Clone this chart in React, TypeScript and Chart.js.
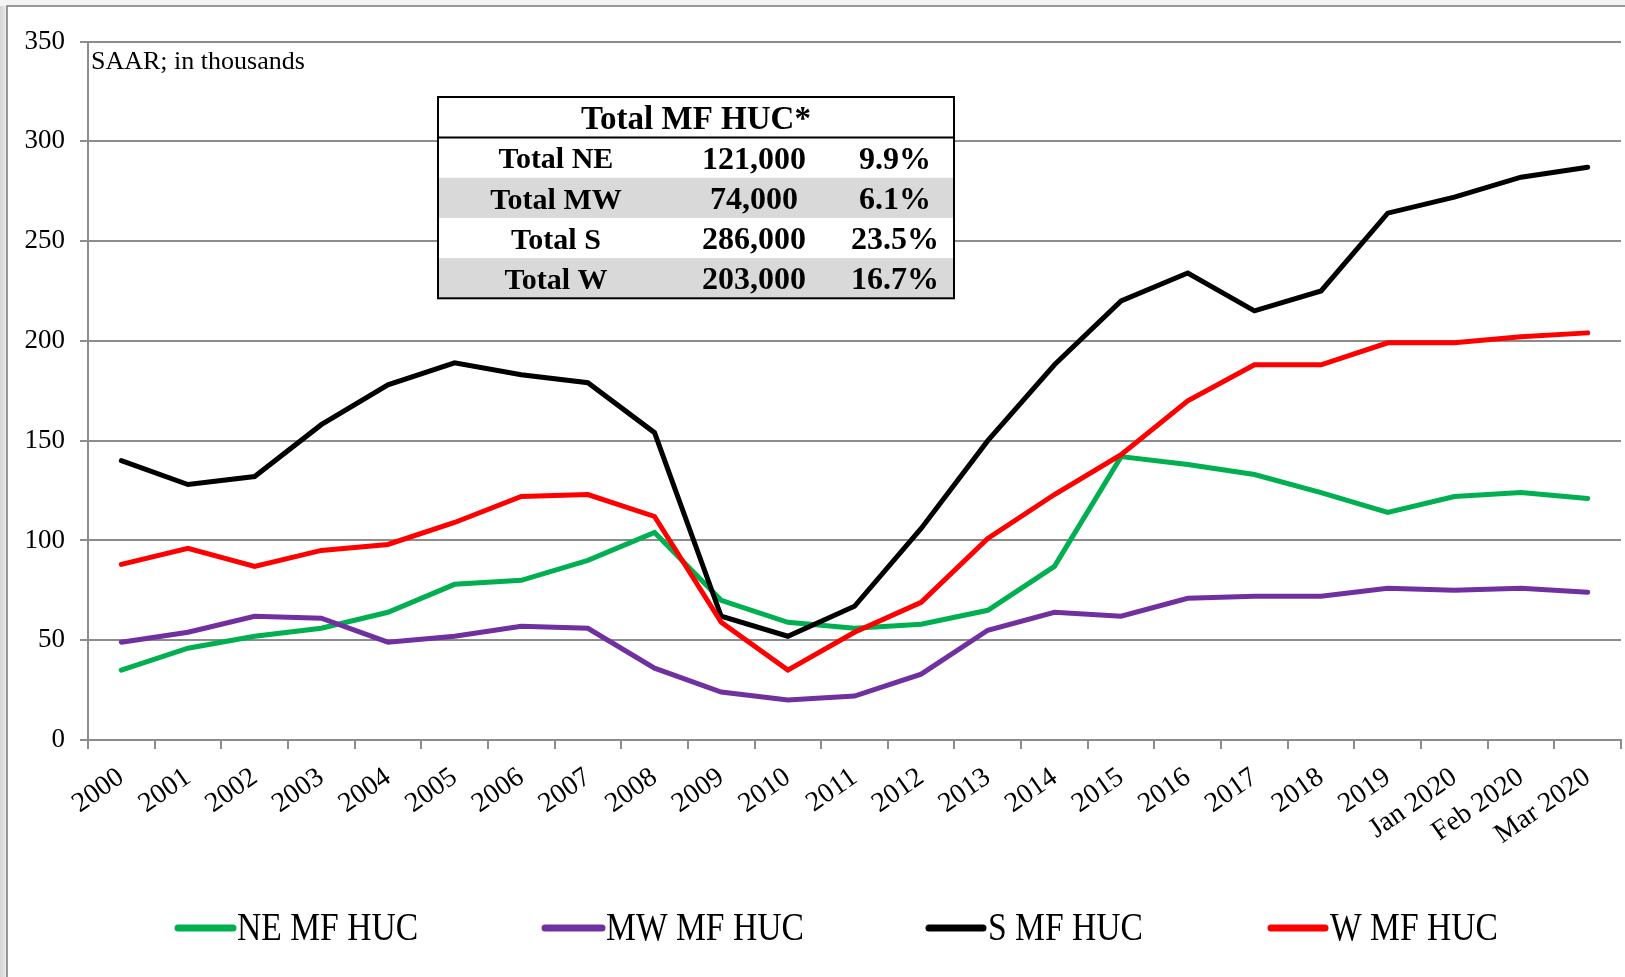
import React, { useEffect, useRef } from "react";
import { Chart, registerables } from "chart.js";

Chart.register(...registerables);

const categories = [
  "2000", "2001", "2002", "2003", "2004", "2005", "2006", "2007", "2008", "2009",
  "2010", "2011", "2012", "2013", "2014", "2015", "2016", "2017", "2018", "2019",
  "Jan 2020", "Feb 2020", "Mar 2020",
];

const neValues = [35, 46, 52, 56, 64, 78, 80, 90, 104, 70, 59, 56, 58, 65, 87, 142, 138, 133, 124, 114, 122, 124, 121];
const mwValues = [49, 54, 62, 61, 49, 52, 57, 56, 36, 24, 20, 22, 33, 55, 64, 62, 71, 72, 72, 76, 75, 76, 74];
const sValues = [140, 128, 132, 158, 178, 189, 183, 179, 154, 62, 52, 67, 106, 150, 188, 220, 234, 215, 225, 264, 272, 282, 287];
const wValues = [88, 96, 87, 95, 98, 109, 122, 123, 112, 59, 35, 54, 69, 101, 123, 143, 170, 188, 188, 199, 199, 202, 204];

const seriesNames = ["NE MF HUC", "MW MF HUC", "S MF HUC", "W MF HUC"];
const seriesColors = ["#00b050", "#7030a0", "#000000", "#ff0000"];

const tableTitle = "Total MF HUC*";
const tableLabels = ["Total NE", "Total MW", "Total S", "Total W"];
const tableTotals = ["121,000", "74,000", "286,000", "203,000"];
const tableShares = ["9.9%", "6.1%", "23.5%", "16.7%"];

const yMin = 0;
const yMax = 350;
const yStep = 50;

const unitNote = "SAAR; in thousands";

const SERIF = "'Liberation Serif', 'Times New Roman', serif";
const GRID = "#8c8c8c";

const W = 1625;
const H = 977;

const framePlugin = {
  id: "frame",
  beforeDraw(chart: any) {
    const ctx = chart.ctx;
    ctx.save();
    const g = ctx.createLinearGradient(0, 0, 7, 0);
    g.addColorStop(0, "#d4d4d4");
    g.addColorStop(1, "#ececec");
    ctx.fillStyle = g;
    ctx.fillRect(0, 0, 7, H);
    ctx.fillStyle = "#f4f4f4";
    ctx.fillRect(0, 0, W, 6);
    ctx.fillStyle = "#ffffff";
    ctx.fillRect(7, 6, W - 7, H - 6);
    ctx.strokeStyle = "#7a7a7a";
    ctx.lineWidth = 1.5;
    ctx.beginPath();
    ctx.moveTo(7, H);
    ctx.lineTo(7, 6);
    ctx.lineTo(W, 6);
    ctx.stroke();
    ctx.restore();
  },
};

const overlayPlugin = {
  id: "overlay",
  afterDraw(chart: any) {
    const ctx = chart.ctx;
    const area = chart.chartArea;
    ctx.save();

    // unit note
    ctx.fillStyle = "#000";
    ctx.font = `26px ${SERIF}`;
    ctx.textAlign = "left";
    ctx.textBaseline = "middle";
    ctx.fillText(unitNote, area.left + 3, 62);

    // table
    const tx = 438;
    const tw = 516;
    const ty = 97;
    const headerH = 40.5;
    const rowH = 40.2;
    const th = headerH + rowH * tableLabels.length;
    ctx.fillStyle = "#ffffff";
    ctx.fillRect(tx, ty, tw, th);
    for (let i = 0; i < tableLabels.length; i++) {
      if (i % 2 === 1) {
        ctx.fillStyle = "#d9d9d9";
        ctx.fillRect(tx, ty + headerH + i * rowH, tw, rowH);
      }
    }
    ctx.strokeStyle = "#000";
    ctx.lineWidth = 2;
    ctx.strokeRect(tx, ty, tw, th);
    ctx.beginPath();
    ctx.moveTo(tx, ty + headerH);
    ctx.lineTo(tx + tw, ty + headerH);
    ctx.stroke();

    ctx.fillStyle = "#000";
    ctx.font = `bold 33px ${SERIF}`;
    ctx.textAlign = "center";
    ctx.textBaseline = "middle";
    ctx.fillText(tableTitle, tx + tw / 2, ty + headerH / 2 + 3);
    for (let i = 0; i < tableLabels.length; i++) {
      const cy = ty + headerH + i * rowH + rowH / 2 + 3;
      ctx.textAlign = "center";
      ctx.font = `bold 30px ${SERIF}`;
      ctx.fillText(tableLabels[i], 556, cy);
      ctx.font = `bold 32px ${SERIF}`;
      ctx.fillText(tableTotals[i], 754, cy);
      ctx.fillText(tableShares[i], 895, cy);
    }

    // legend
    const legendY = 928;
    const items = [
      { x0: 178, x1: 233, tx: 237 },
      { x0: 545, x1: 602, tx: 606 },
      { x0: 929, x1: 983, tx: 988 },
      { x0: 1271, x1: 1325, tx: 1330 },
    ];
    ctx.lineCap = "round";
    for (let i = 0; i < seriesNames.length; i++) {
      const it = items[i];
      ctx.strokeStyle = seriesColors[i];
      ctx.lineWidth = 7;
      ctx.beginPath();
      ctx.moveTo(it.x0, legendY);
      ctx.lineTo(it.x1, legendY);
      ctx.stroke();
      ctx.save();
      ctx.translate(it.tx, legendY + 1);
      ctx.scale(0.84, 1);
      ctx.fillStyle = "#000";
      ctx.font = `40px ${SERIF}`;
      ctx.textAlign = "left";
      ctx.textBaseline = "middle";
      ctx.fillText(seriesNames[i], 0, 0);
      ctx.restore();
    }
    ctx.restore();
  },
};

export default function App() {
  const canvasRef = useRef<HTMLCanvasElement | null>(null);

  useEffect(() => {
    if (!canvasRef.current) return;
    const valueSets = [neValues, mwValues, sValues, wValues];
    const chart = new Chart(canvasRef.current, {
      type: "line",
      data: {
        labels: categories,
        datasets: seriesNames.map((name, i) => ({
          label: name,
          data: valueSets[i],
          borderColor: seriesColors[i],
          backgroundColor: seriesColors[i],
          borderWidth: 5,
          pointRadius: 0,
          tension: 0,
          borderCapStyle: "round" as const,
          borderJoinStyle: "miter" as const,
          order: seriesNames.length - i,
        })),
      },
      options: {
        responsive: false,
        animation: false,
        layout: { padding: { left: 0, top: 41.5, right: 4, bottom: 0 } },
        plugins: {
          legend: { display: false },
          tooltip: { enabled: false },
        },
        scales: {
          x: {
            type: "category",
            offset: true,
            grid: {
              display: true,
              offset: true,
              drawOnChartArea: false,
              drawTicks: true,
              tickLength: 9,
              color: GRID,
              lineWidth: 2,
            },
            border: { display: true, color: GRID, width: 2 },
            ticks: {
              color: "#000",
              font: { family: SERIF, size: 28 },
              minRotation: 35,
              maxRotation: 35,
              autoSkip: false,
              padding: 12,
            },
            afterFit: (scale: any) => {
              scale.height = 237;
            },
          },
          y: {
            min: yMin,
            max: yMax,
            ticks: {
              stepSize: yStep,
              color: "#000",
              font: { family: SERIF, size: 27 },
              padding: 15,
            },
            grid: {
              color: GRID,
              lineWidth: 2,
              drawTicks: true,
              tickLength: 8,
            },
            border: { display: true, color: GRID, width: 2 },
            afterFit: (scale: any) => {
              scale.width = 88;
            },
          },
        },
      },
      plugins: [framePlugin, overlayPlugin],
    });
    return () => chart.destroy();
  }, []);

  return (
    <div style={{ position: "fixed", left: 0, top: 0, width: W, height: H, background: "#fff" }}>
      <canvas ref={canvasRef} width={W} height={H} style={{ display: "block", width: W, height: H }} />
    </div>
  );
}
